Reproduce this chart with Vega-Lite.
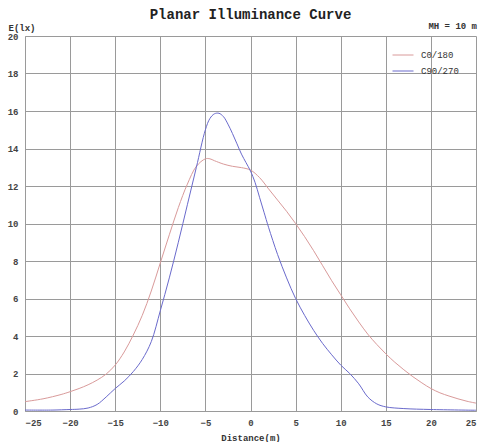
{
  "$schema": "https://vega.github.io/schema/vega-lite/v6.json",
  "width": 451,
  "height": 375,
  "autosize": {"type": "none"},
  "padding": {"left": 25, "top": 36, "right": 4, "bottom": 31},
  "background": "white",
  "config": {
    "view": {"stroke": null},
    "font": "Liberation Mono"
  },
  "title": {
    "text": "Planar Illuminance Curve",
    "font": "Liberation Mono",
    "fontSize": 14,
    "fontWeight": "bold",
    "color": "#222",
    "anchor": "middle",
    "offset": 14,
    "dy": 14
  },
  "datasets": {
    "curves": [
      {"x": -25, "E": 0.5, "curve": "C0/180"},
      {"x": -23, "E": 0.65, "curve": "C0/180"},
      {"x": -21, "E": 0.88, "curve": "C0/180"},
      {"x": -20, "E": 1.03, "curve": "C0/180"},
      {"x": -19, "E": 1.2, "curve": "C0/180"},
      {"x": -18, "E": 1.4, "curve": "C0/180"},
      {"x": -17, "E": 1.65, "curve": "C0/180"},
      {"x": -16, "E": 1.97, "curve": "C0/180"},
      {"x": -15, "E": 2.45, "curve": "C0/180"},
      {"x": -14, "E": 3.15, "curve": "C0/180"},
      {"x": -13, "E": 4.05, "curve": "C0/180"},
      {"x": -12, "E": 5.1, "curve": "C0/180"},
      {"x": -11, "E": 6.4, "curve": "C0/180"},
      {"x": -10, "E": 7.9, "curve": "C0/180"},
      {"x": -9, "E": 9.4, "curve": "C0/180"},
      {"x": -8, "E": 10.85, "curve": "C0/180"},
      {"x": -7, "E": 12.1, "curve": "C0/180"},
      {"x": -6, "E": 13.05, "curve": "C0/180"},
      {"x": -5, "E": 13.45, "curve": "C0/180"},
      {"x": -4.5, "E": 13.45, "curve": "C0/180"},
      {"x": -4, "E": 13.35, "curve": "C0/180"},
      {"x": -3, "E": 13.17, "curve": "C0/180"},
      {"x": -2, "E": 13.05, "curve": "C0/180"},
      {"x": -1, "E": 12.98, "curve": "C0/180"},
      {"x": 0, "E": 12.85, "curve": "C0/180"},
      {"x": 1, "E": 12.45, "curve": "C0/180"},
      {"x": 2, "E": 11.85, "curve": "C0/180"},
      {"x": 3, "E": 11.25, "curve": "C0/180"},
      {"x": 4, "E": 10.65, "curve": "C0/180"},
      {"x": 5, "E": 10.0, "curve": "C0/180"},
      {"x": 6, "E": 9.3, "curve": "C0/180"},
      {"x": 7, "E": 8.55, "curve": "C0/180"},
      {"x": 8, "E": 7.75, "curve": "C0/180"},
      {"x": 9, "E": 6.95, "curve": "C0/180"},
      {"x": 10, "E": 6.2, "curve": "C0/180"},
      {"x": 11, "E": 5.45, "curve": "C0/180"},
      {"x": 12, "E": 4.75, "curve": "C0/180"},
      {"x": 13, "E": 4.1, "curve": "C0/180"},
      {"x": 14, "E": 3.55, "curve": "C0/180"},
      {"x": 15, "E": 3.05, "curve": "C0/180"},
      {"x": 16, "E": 2.6, "curve": "C0/180"},
      {"x": 17, "E": 2.2, "curve": "C0/180"},
      {"x": 18, "E": 1.83, "curve": "C0/180"},
      {"x": 19, "E": 1.5, "curve": "C0/180"},
      {"x": 20, "E": 1.2, "curve": "C0/180"},
      {"x": 21, "E": 0.97, "curve": "C0/180"},
      {"x": 22, "E": 0.8, "curve": "C0/180"},
      {"x": 23, "E": 0.65, "curve": "C0/180"},
      {"x": 24, "E": 0.52, "curve": "C0/180"},
      {"x": 25, "E": 0.42, "curve": "C0/180"},
      {"x": -25, "E": 0.05, "curve": "C90/270"},
      {"x": -22, "E": 0.05, "curve": "C90/270"},
      {"x": -20, "E": 0.08, "curve": "C90/270"},
      {"x": -19, "E": 0.1, "curve": "C90/270"},
      {"x": -18, "E": 0.16, "curve": "C90/270"},
      {"x": -17, "E": 0.35, "curve": "C90/270"},
      {"x": -16, "E": 0.75, "curve": "C90/270"},
      {"x": -15, "E": 1.2, "curve": "C90/270"},
      {"x": -14, "E": 1.6, "curve": "C90/270"},
      {"x": -13, "E": 2.1, "curve": "C90/270"},
      {"x": -12, "E": 2.75, "curve": "C90/270"},
      {"x": -11, "E": 3.7, "curve": "C90/270"},
      {"x": -10, "E": 5.35, "curve": "C90/270"},
      {"x": -9, "E": 7.1, "curve": "C90/270"},
      {"x": -8, "E": 9.0, "curve": "C90/270"},
      {"x": -7, "E": 11.0, "curve": "C90/270"},
      {"x": -6, "E": 13.0, "curve": "C90/270"},
      {"x": -5, "E": 15.0, "curve": "C90/270"},
      {"x": -4.5, "E": 15.6, "curve": "C90/270"},
      {"x": -4, "E": 15.85, "curve": "C90/270"},
      {"x": -3.5, "E": 15.88, "curve": "C90/270"},
      {"x": -3, "E": 15.7, "curve": "C90/270"},
      {"x": -2.5, "E": 15.3, "curve": "C90/270"},
      {"x": -2, "E": 14.8, "curve": "C90/270"},
      {"x": -1.5, "E": 14.25, "curve": "C90/270"},
      {"x": -1, "E": 13.7, "curve": "C90/270"},
      {"x": -0.5, "E": 13.25, "curve": "C90/270"},
      {"x": 0, "E": 12.8, "curve": "C90/270"},
      {"x": 0.5, "E": 12.2, "curve": "C90/270"},
      {"x": 1, "E": 11.4, "curve": "C90/270"},
      {"x": 1.5, "E": 10.6, "curve": "C90/270"},
      {"x": 2, "E": 9.8, "curve": "C90/270"},
      {"x": 3, "E": 8.35, "curve": "C90/270"},
      {"x": 4, "E": 7.1, "curve": "C90/270"},
      {"x": 5, "E": 6.0, "curve": "C90/270"},
      {"x": 6, "E": 5.1, "curve": "C90/270"},
      {"x": 7, "E": 4.3, "curve": "C90/270"},
      {"x": 8, "E": 3.6, "curve": "C90/270"},
      {"x": 9, "E": 3.0, "curve": "C90/270"},
      {"x": 10, "E": 2.45, "curve": "C90/270"},
      {"x": 11, "E": 2.0, "curve": "C90/270"},
      {"x": 12, "E": 1.45, "curve": "C90/270"},
      {"x": 13, "E": 0.75, "curve": "C90/270"},
      {"x": 14, "E": 0.38, "curve": "C90/270"},
      {"x": 15, "E": 0.22, "curve": "C90/270"},
      {"x": 17, "E": 0.13, "curve": "C90/270"},
      {"x": 20, "E": 0.08, "curve": "C90/270"},
      {"x": 25, "E": 0.04, "curve": "C90/270"}
    ],
    "note": [{"x": 25, "E": 20, "label": "MH = 10 m"}]
  },
  "encoding": {
    "x": {
      "field": "x",
      "type": "quantitative",
      "scale": {"domain": [-25, 25], "nice": false, "zero": false},
      "axis": {
        "values": [-25, -20, -15, -10, -5, 0, 5, 10, 15, 20, 25],
        "title": "Distance(m)",
        "titleFont": "Liberation Mono",
        "titleFontSize": 9,
        "titleFontWeight": "bold",
        "titleColor": "#333",
        "titlePadding": 6,
        "labelFont": "Liberation Mono",
        "labelFontSize": 9,
        "labelFontWeight": "bold",
        "labelColor": "#444",
        "labelPadding": 7,
        "labelOverlap": false,
        "ticks": false,
        "grid": true,
        "gridColor": "#9a9a9a",
        "gridOpacity": 1,
        "domainColor": "#9a9a9a"
      }
    },
    "y": {
      "field": "E",
      "type": "quantitative",
      "scale": {"domain": [0, 20], "nice": false},
      "axis": {
        "values": [0, 2, 4, 6, 8, 10, 12, 14, 16, 18, 20],
        "tickCount": 11,
        "title": "E(lx)",
        "titleAngle": 0,
        "titleX": -17,
        "titleY": -6,
        "titleAlign": "left",
        "titleBaseline": "alphabetic",
        "titleFont": "Liberation Mono",
        "titleFontSize": 9,
        "titleFontWeight": "bold",
        "titleColor": "#333",
        "labelFont": "Liberation Mono",
        "labelFontSize": 9,
        "labelFontWeight": "bold",
        "labelColor": "#444",
        "labelPadding": 7,
        "labelOverlap": false,
        "labelBound": false,
        "ticks": false,
        "grid": true,
        "gridColor": "#9a9a9a",
        "gridOpacity": 1,
        "domainColor": "#9a9a9a"
      }
    }
  },
  "layer": [
    {
      "data": {"name": "curves"},
      "mark": {"type": "line", "interpolate": "catmull-rom", "strokeWidth": 1},
      "encoding": {
        "color": {
          "field": "curve",
          "type": "nominal",
          "scale": {"domain": ["C0/180", "C90/270"], "range": ["#d99a9a", "#6a6acc"]},
          "legend": {
            "orient": "none",
            "legendX": 367,
            "legendY": 8,
            "title": null,
            "symbolType": "stroke",
            "symbolSize": 441,
            "symbolStrokeWidth": 1,
            "labelFont": "Liberation Mono",
            "labelFontSize": 9,
            "labelColor": "#333",
            "labelOffset": 7,
            "rowPadding": -3,
            "padding": 0
          }
        }
      }
    },
    {
      "data": {"name": "note"},
      "mark": {"type": "text", "align": "right", "baseline": "alphabetic", "dy": -7, "dx": 1, "font": "Liberation Mono", "fontSize": 9, "fontWeight": "bold", "color": "#333"},
      "encoding": {
        "text": {"field": "label"}
      }
    }
  ]
}
